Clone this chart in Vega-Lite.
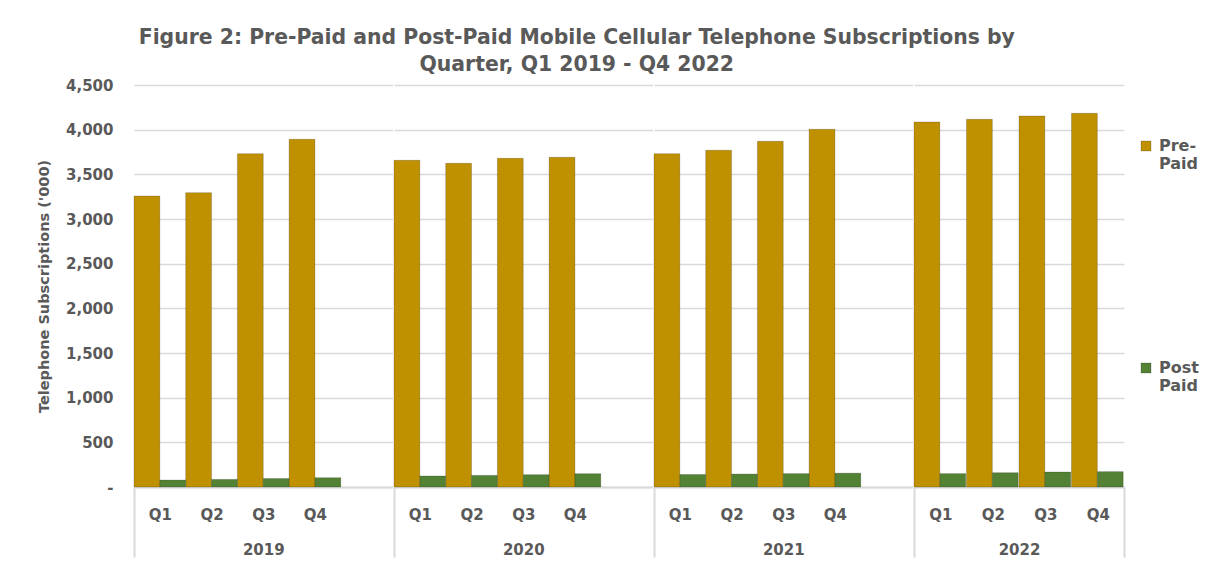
{
  "$schema": "https://vega.github.io/schema/vega-lite/v6.json",
  "padding": {"left": 36, "top": 27, "right": 5, "bottom": 5},
  "title": {
    "text": ["Figure 2: Pre-Paid and Post-Paid Mobile Cellular Telephone Subscriptions by", "Quarter, Q1 2019 - Q4 2022"],
    "fontSize": 20.4, "fontWeight": "bold", "color": "#595959", "font": "DejaVu Sans",
    "anchor": "middle", "dx": -41, "offset": 3, "lineHeight": 27
  },
  "config": {
    "font": "DejaVu Sans",
    "view": {"stroke": null},
    "bar": {"strokeWidth": 1, "stroke": "#000000", "strokeOpacity": 0.18}
  },
  "datasets": {
    "subs": [
      {"year": "2019", "quarter": "Q1", "type": "Pre-Paid", "value": 3257},
      {"year": "2019", "quarter": "Q2", "type": "Pre-Paid", "value": 3295},
      {"year": "2019", "quarter": "Q3", "type": "Pre-Paid", "value": 3731},
      {"year": "2019", "quarter": "Q4", "type": "Pre-Paid", "value": 3892},
      {"year": "2019", "quarter": "Q1", "type": "Post Paid", "value": 78},
      {"year": "2019", "quarter": "Q2", "type": "Post Paid", "value": 85},
      {"year": "2019", "quarter": "Q3", "type": "Post Paid", "value": 95},
      {"year": "2019", "quarter": "Q4", "type": "Post Paid", "value": 104},
      {"year": "2020", "quarter": "Q1", "type": "Pre-Paid", "value": 3657},
      {"year": "2020", "quarter": "Q2", "type": "Pre-Paid", "value": 3623},
      {"year": "2020", "quarter": "Q3", "type": "Pre-Paid", "value": 3679},
      {"year": "2020", "quarter": "Q4", "type": "Pre-Paid", "value": 3691},
      {"year": "2020", "quarter": "Q1", "type": "Post Paid", "value": 123},
      {"year": "2020", "quarter": "Q2", "type": "Post Paid", "value": 130},
      {"year": "2020", "quarter": "Q3", "type": "Post Paid", "value": 138},
      {"year": "2020", "quarter": "Q4", "type": "Post Paid", "value": 149},
      {"year": "2021", "quarter": "Q1", "type": "Pre-Paid", "value": 3731},
      {"year": "2021", "quarter": "Q2", "type": "Pre-Paid", "value": 3769},
      {"year": "2021", "quarter": "Q3", "type": "Pre-Paid", "value": 3870},
      {"year": "2021", "quarter": "Q4", "type": "Pre-Paid", "value": 4004},
      {"year": "2021", "quarter": "Q1", "type": "Post Paid", "value": 140},
      {"year": "2021", "quarter": "Q2", "type": "Post Paid", "value": 145},
      {"year": "2021", "quarter": "Q3", "type": "Post Paid", "value": 150},
      {"year": "2021", "quarter": "Q4", "type": "Post Paid", "value": 155},
      {"year": "2022", "quarter": "Q1", "type": "Pre-Paid", "value": 4086},
      {"year": "2022", "quarter": "Q2", "type": "Pre-Paid", "value": 4116},
      {"year": "2022", "quarter": "Q3", "type": "Pre-Paid", "value": 4153},
      {"year": "2022", "quarter": "Q4", "type": "Pre-Paid", "value": 4183},
      {"year": "2022", "quarter": "Q1", "type": "Post Paid", "value": 150},
      {"year": "2022", "quarter": "Q2", "type": "Post Paid", "value": 160},
      {"year": "2022", "quarter": "Q3", "type": "Post Paid", "value": 168},
      {"year": "2022", "quarter": "Q4", "type": "Post Paid", "value": 172}
    ]
  },
  "data": {"name": "subs"},
  "spacing": 0,
  "resolve": {"scale": {"color": "shared", "x": "independent", "y": "independent"}},
  "hconcat": [
    {
      "width": 258.5, "height": 402,
      "transform": [{"filter": "datum.year == '2019'"}],
      "mark": {"type": "bar"},
      "encoding": {
        "x": {"field": "quarter", "type": "nominal", "title": "2019",
          "scale": {"paddingInner": 0, "paddingOuter": 0.5, "align": 0},
          "axis": {"labelAngle": 0, "labelFontSize": 15, "labelFontWeight": "bold", "labelColor": "#595959",
            "titleFontSize": 15, "titleFontWeight": "bold", "titleColor": "#595959",
            "tickBand": "extent", "tickSize": 70, "tickColor": "#D9D9D9", "tickWidth": 2,
            "tickOpacity": {"condition": {"test": "datum.extra", "value": 1}, "value": 0},
            "domainColor": "#D9D9D9", "domainWidth": 2, "labelPadding": -50, "titlePadding": -16}},
        "xOffset": {"field": "type", "sort": ["Pre-Paid", "Post Paid"], "scale": {"paddingInner": 0, "paddingOuter": 0}},
        "y": {"field": "value", "type": "quantitative", "scale": {"domain": [0, 4500]},
          "axis": {"title": "Telephone Subscriptions ('000)", "titleFontSize": 14.5, "titleFontWeight": "bold", "titleColor": "#595959",
            "values": [0, 500, 1000, 1500, 2000, 2500, 3000, 3500, 4000, 4500],
            "labelExpr": "datum.value == 0 ? '-' : format(datum.value, ',')",
            "labelFontSize": 15, "labelFontWeight": "bold", "labelColor": "#595959", "labelPadding": 21,
            "ticks": false, "domain": false, "gridColor": "#D9D9D9", "gridWidth": 1.5, "titlePadding": 14}},
        "color": {"field": "type", "type": "nominal", "sort": ["Pre-Paid", "Post Paid"],
          "scale": {"domain": ["Pre-Paid", "Post Paid"], "range": ["#BF9000", "#548235"]},
          "legend": {"title": null, "orient": "none", "legendX": 1004, "legendY": 53,
            "symbolType": "square", "symbolSize": 100, "symbolStrokeWidth": 0,
            "labelFontSize": 16, "labelFontWeight": "bold", "labelColor": "#595959",
            "labelExpr": "datum.label == 'Pre-Paid' ? ['Pre-', 'Paid'] : ['Post', 'Paid']",
            "rowPadding": 188, "labelOffset": 5}}
      }
    },
    {
      "width": 258.5, "height": 402,
      "transform": [{"filter": "datum.year == '2020'"}],
      "mark": {"type": "bar"},
      "encoding": {
        "x": {"field": "quarter", "type": "nominal", "title": "2020",
          "scale": {"paddingInner": 0, "paddingOuter": 0.5, "align": 0},
          "axis": {"labelAngle": 0, "labelFontSize": 15, "labelFontWeight": "bold", "labelColor": "#595959",
            "titleFontSize": 15, "titleFontWeight": "bold", "titleColor": "#595959",
            "tickBand": "extent", "tickSize": 70, "tickColor": "#D9D9D9", "tickWidth": 2,
            "tickOpacity": {"condition": {"test": "datum.extra", "value": 1}, "value": 0},
            "domainColor": "#D9D9D9", "domainWidth": 2, "labelPadding": -50, "titlePadding": -16}},
        "xOffset": {"field": "type", "sort": ["Pre-Paid", "Post Paid"], "scale": {"paddingInner": 0, "paddingOuter": 0}},
        "y": {"field": "value", "type": "quantitative", "scale": {"domain": [0, 4500]},
          "axis": {"title": null, "labels": false, "ticks": false, "domain": false,
            "values": [0, 500, 1000, 1500, 2000, 2500, 3000, 3500, 4000, 4500],
            "gridColor": "#D9D9D9", "gridWidth": 1.5}},
        "color": {"field": "type", "type": "nominal", "sort": ["Pre-Paid", "Post Paid"],
          "scale": {"domain": ["Pre-Paid", "Post Paid"], "range": ["#BF9000", "#548235"]}}
      }
    },
    {
      "width": 258.5, "height": 402,
      "transform": [{"filter": "datum.year == '2021'"}],
      "mark": {"type": "bar"},
      "encoding": {
        "x": {"field": "quarter", "type": "nominal", "title": "2021",
          "scale": {"paddingInner": 0, "paddingOuter": 0.5, "align": 0},
          "axis": {"labelAngle": 0, "labelFontSize": 15, "labelFontWeight": "bold", "labelColor": "#595959",
            "titleFontSize": 15, "titleFontWeight": "bold", "titleColor": "#595959",
            "tickBand": "extent", "tickSize": 70, "tickColor": "#D9D9D9", "tickWidth": 2,
            "tickOpacity": {"condition": {"test": "datum.extra", "value": 1}, "value": 0},
            "domainColor": "#D9D9D9", "domainWidth": 2, "labelPadding": -50, "titlePadding": -16}},
        "xOffset": {"field": "type", "sort": ["Pre-Paid", "Post Paid"], "scale": {"paddingInner": 0, "paddingOuter": 0}},
        "y": {"field": "value", "type": "quantitative", "scale": {"domain": [0, 4500]},
          "axis": {"title": null, "labels": false, "ticks": false, "domain": false,
            "values": [0, 500, 1000, 1500, 2000, 2500, 3000, 3500, 4000, 4500],
            "gridColor": "#D9D9D9", "gridWidth": 1.5}},
        "color": {"field": "type", "type": "nominal", "sort": ["Pre-Paid", "Post Paid"],
          "scale": {"domain": ["Pre-Paid", "Post Paid"], "range": ["#BF9000", "#548235"]}}
      }
    },
    {
      "width": 210, "height": 402,
      "transform": [{"filter": "datum.year == '2022'"}],
      "mark": {"type": "bar"},
      "encoding": {
        "x": {"field": "quarter", "type": "nominal", "title": "2022",
          "scale": {"paddingInner": 0, "paddingOuter": 0},
          "axis": {"labelAngle": 0, "labelFontSize": 15, "labelFontWeight": "bold", "labelColor": "#595959",
            "titleFontSize": 15, "titleFontWeight": "bold", "titleColor": "#595959",
            "tickBand": "extent", "tickSize": 70, "tickColor": "#D9D9D9", "tickWidth": 2,
            "tickOpacity": {"condition": {"test": "datum.extra || datum.value == 'Q4'", "value": 1}, "value": 0},
            "domainColor": "#D9D9D9", "domainWidth": 2, "labelPadding": -50, "titlePadding": -16}},
        "xOffset": {"field": "type", "sort": ["Pre-Paid", "Post Paid"], "scale": {"paddingInner": 0, "paddingOuter": 0}},
        "y": {"field": "value", "type": "quantitative", "scale": {"domain": [0, 4500]},
          "axis": {"title": null, "labels": false, "ticks": false, "domain": false,
            "values": [0, 500, 1000, 1500, 2000, 2500, 3000, 3500, 4000, 4500],
            "gridColor": "#D9D9D9", "gridWidth": 1.5}},
        "color": {"field": "type", "type": "nominal", "sort": ["Pre-Paid", "Post Paid"],
          "scale": {"domain": ["Pre-Paid", "Post Paid"], "range": ["#BF9000", "#548235"]}}
      }
    }
  ]
}
